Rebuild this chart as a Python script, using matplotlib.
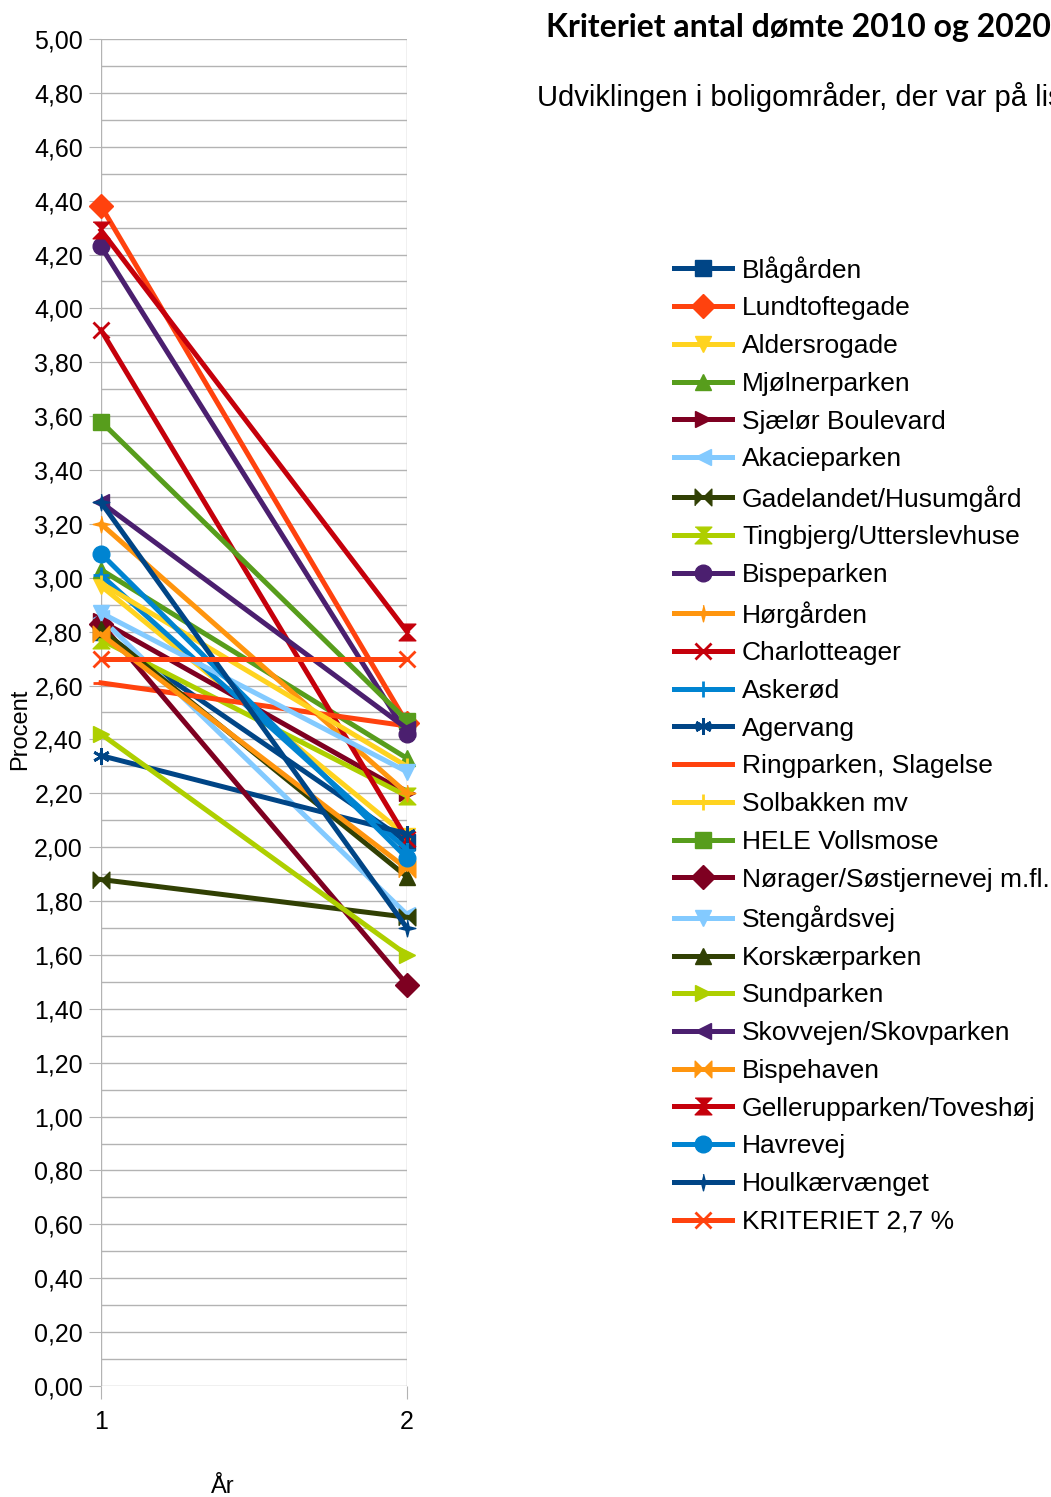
import matplotlib.pyplot as plt
from matplotlib.ticker import MultipleLocator, FuncFormatter

plt.rcParams['font.family'] = ['Liberation Sans', 'DejaVu Sans']

years = [1, 2]

names = [
    "Blågården", "Lundtoftegade", "Aldersrogade", "Mjølnerparken",
    "Sjælør Boulevard", "Akacieparken", "Gadelandet/Husumgård",
    "Tingbjerg/Utterslevhuse", "Bispeparken", "Hørgården", "Charlotteager",
    "Askerød", "Agervang", "Ringparken, Slagelse", "Solbakken mv",
    "HELE Vollsmose", "Nørager/Søstjernevej m.fl.", "Stengårdsvej",
    "Korskærparken", "Sundparken", "Skovvejen/Skovparken", "Bispehaven",
    "Gellerupparken/Toveshøj", "Havrevej", "Houlkærvænget", "KRITERIET 2,7 %",
]
start = [2.80, 4.38, 2.97, 3.03, 2.84, 2.85, 1.88, 2.77, 4.23, 3.20, 3.92,
         3.01, 2.34, 2.61, 2.98, 3.58, 2.83, 2.87, 2.81, 2.42, 3.28, 2.79,
         4.29, 3.09, 3.28, 2.70]
end = [2.02, 2.46, 2.04, 2.33, 2.20, 1.75, 1.74, 2.19, 2.42, 2.20, 2.03,
       1.99, 2.05, 2.45, 2.30, 2.47, 1.49, 2.28, 1.89, 1.60, 2.44, 1.92,
       2.80, 1.96, 1.70, 2.70]

# LibreOffice default chart palette and symbol cycle
palette = ['#004586', '#ff420e', '#ffd320', '#579d1c', '#7e0021', '#83caff',
           '#314004', '#aecf00', '#4b1f6f', '#ff950e', '#c5000b', '#0084d1']

bowtie = [(-1, -1), (-1, 1), (0, 0), (1, 1), (1, -1), (0, 0)]
hourglass = [(-1, 1), (1, 1), (0, 0), (1, -1), (-1, -1), (0, 0)]
star4 = [(0, 1), (0.2, 0.2), (1, 0), (0.2, -0.2), (0, -1), (-0.2, -0.2),
         (-1, 0), (-0.2, 0.2)]
symbols = ['s', 'D', 'v', '^', '>', '<', bowtie, hourglass, 'o', star4, 'x',
           '+', (6, 2, 0), '_', '|']

fig = plt.figure(figsize=(10.51, 14.97), dpi=100)
ax = fig.add_axes([101 / 1051, 1 - 1386 / 1497, 306 / 1051, 1347 / 1497])

for i, name in enumerate(names):
    c = palette[i % len(palette)]
    m = symbols[i % len(symbols)]
    thin = isinstance(m, tuple) or m in ('x', '+', '_', '|')
    ax.plot(years, [start[i], end[i]], color=c, lw=3.6, marker=m, ms=12,
            mec=c, mfc=c, mew=2 if thin else 1, label=name, clip_on=False)

ax.set_xlim(1, 2)
ax.set_ylim(0, 5)
ax.set_xticks([1, 2])
ax.yaxis.set_major_locator(MultipleLocator(0.2))
ax.yaxis.set_minor_locator(MultipleLocator(0.1))
ax.yaxis.set_major_formatter(FuncFormatter(lambda v, p: f"{v:.2f}".replace('.', ',')))
ax.grid(True, which='both', color='#b3b3b3', lw=1)
ax.set_axisbelow(True)
for s in ax.spines.values():
    s.set_visible(False)
ax.tick_params(axis='y', which='major', length=9, color='#b3b3b3', labelsize=18, pad=4)
ax.tick_params(axis='y', which='minor', length=0)
ax.tick_params(axis='x', length=9, color='#b3b3b3', labelsize=18, pad=8)

fig.text(20 / 1051, 1 - 729 / 1497, "Procent", fontsize=17, rotation=90,
         ha='center', va='center')
fig.text(223 / 1051, 1 - 1487 / 1497, "År", fontsize=17, ha='center', va='center')

fig.text(546 / 1051, 1 - 28 / 1497, "Kriteriet antal dømte 2010 og 2020",
         fontsize=23, fontweight='bold', family=['Lato', 'DejaVu Sans'],
         ha='left', va='center')
fig.text(537 / 1051, 1 - 97 / 1497, "Udviklingen i boligområder, der var på listen",
         fontsize=21, ha='left', va='center')

fig.legend(loc='upper left', bbox_to_anchor=(674 / 1051, 1 - 256 / 1497),
           frameon=False, fontsize=19, labelspacing=0.52, handlelength=2.2,
           handletextpad=0.38, borderaxespad=0, borderpad=0)

fig.savefig("out.png", dpi=100)
